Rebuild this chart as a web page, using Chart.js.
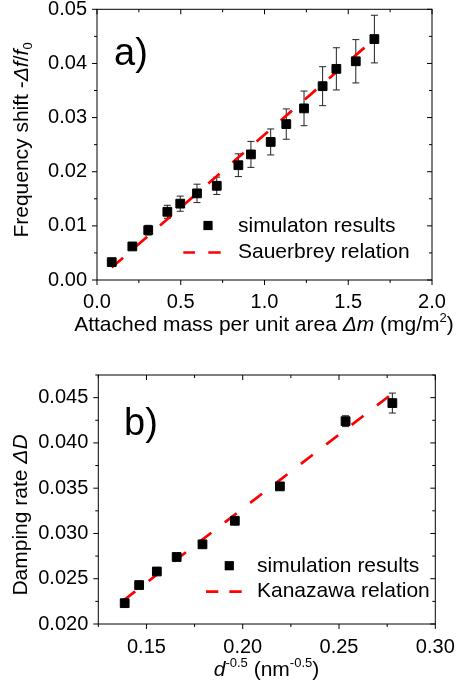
<!DOCTYPE html>
<html><head><meta charset="utf-8">
<script src="https://cdn.jsdelivr.net/npm/chart.js@4.4.1/dist/chart.umd.min.js"></script>
<style>
html,body{margin:0;padding:0;background:#fff;}
#wrap{position:relative;width:457px;height:685px;overflow:hidden;}
.box{position:absolute;left:0;width:457px;}
</style></head><body>
<div id="wrap">
<div class="box" style="top:0;height:345px"><canvas id="c1"></canvas></div>
<div class="box" style="top:345px;height:340px"><canvas id="c2"></canvas></div>
</div>
<script>
// ---------- data (panel a) ----------
const massA  = [0.088,0.211,0.306,0.420,0.497,0.597,0.715,0.844,0.919,1.037,1.130,1.236,1.347,1.429,1.545,1.656];
const shiftA = [0.0033,0.0062,0.0092,0.0126,0.0141,0.0160,0.0174,0.0212,0.0232,0.0255,0.0288,0.0317,0.0358,0.0390,0.0404,0.0445];
const errA   = [0.0003,0.0006,0.0009,0.0012,0.0014,0.0017,0.0016,0.0021,0.0024,0.0024,0.0028,0.0032,0.0036,0.0039,0.0040,0.0044];
const sauerX = [0.088, 1.670];
const sauerY = [0.0023, 0.0449];
const xTicksA = [0, 0.5, 1.0, 1.5, 2.0];
const yTicksA = [0, 0.01, 0.02, 0.03, 0.04, 0.05];
// ---------- data (panel b) ----------
const dB    = [0.1387,0.1462,0.1554,0.1657,0.1791,0.1959,0.2193,0.2534,0.2777];
const dampB = [0.0223,0.0243,0.0258,0.0274,0.0288,0.0314,0.0352,0.0424,0.0444];
const errB  = [0.0002,0.0002,0.0002,0.0002,0.0002,0.0002,0.0002,0.0006,0.0011];
const kanaX = [0.138, 0.278];
const kanaY = [0.0226, 0.0455];
const xTicksB = [0.15, 0.20, 0.25, 0.30];
const yTicksB = [0.020, 0.025, 0.030, 0.035, 0.040, 0.045];

const FAM = '"Liberation Sans", Arial, Helvetica, sans-serif';

function fontFor(s, size){
  const sz = (s.sup||s.sub) ? Math.round(size*0.62) : size;
  return (s.i ? 'italic ' : '') + sz + 'px ' + FAM;
}
function drawRich(ctx, segs, cx, cy, size, rot){
  ctx.save();
  ctx.translate(cx, cy);
  if (rot) ctx.rotate(rot);
  ctx.fillStyle = '#000';
  ctx.textBaseline = 'alphabetic';
  ctx.textAlign = 'left';
  let total = 0;
  const w = segs.map(s => { ctx.font = fontFor(s,size); const m = ctx.measureText(s.t).width; total += m; return m; });
  let x = -total/2;
  const base = size*0.36;
  segs.forEach((s,k) => {
    ctx.font = fontFor(s,size);
    let dy = 0;
    if (s.sup) dy = -size*0.42;
    if (s.sub) dy = size*0.22;
    ctx.fillText(s.t, x, base+dy);
    x += w[k];
  });
  ctx.restore();
}

function frameAndTicks(chart, majorX, majorY, minorXStep, minorYStep){
  const {ctx, chartArea:{left,right,top,bottom}, scales:{x,y}} = chart;
  ctx.save();
  ctx.strokeStyle = '#000';
  ctx.lineWidth = 1;
  ctx.strokeRect(left, top, right-left, bottom-top);
  const MJ = 5, MN = 3;
  ctx.beginPath();
  const xmin = x.min, xmax = x.max, ymin = y.min, ymax = y.max;
  const n = Math.round((xmax - xmin)/minorXStep);
  for (let k=0;k<=n;k++){
    const v = xmin + k*minorXStep;
    const isMajor = majorX.some(m => Math.abs(m-v) < 1e-9);
    const px = x.getPixelForValue(v);
    const L = isMajor ? MJ : MN;
    ctx.moveTo(px, bottom); ctx.lineTo(px, bottom+L);
    ctx.moveTo(px, top); ctx.lineTo(px, top+L);
  }
  const m = Math.round((ymax - ymin)/minorYStep);
  for (let k=0;k<=m;k++){
    const v = ymin + k*minorYStep;
    const isMajor = majorY.some(t => Math.abs(t-v) < 1e-9);
    const py = y.getPixelForValue(v);
    const L = isMajor ? MJ : MN;
    ctx.moveTo(left, py); ctx.lineTo(left-L, py);
    ctx.moveTo(right, py); ctx.lineTo(right-L, py);
  }
  ctx.stroke();
  ctx.restore();
}

function errorBars(chart, xs, ys, es){
  const {ctx, scales:{x,y}} = chart;
  ctx.save();
  ctx.strokeStyle = '#222';
  ctx.lineWidth = 1;
  ctx.beginPath();
  xs.forEach((xv,i) => {
    const px = x.getPixelForValue(xv);
    const p1 = y.getPixelForValue(ys[i]+es[i]);
    const p2 = y.getPixelForValue(ys[i]-es[i]);
    ctx.moveTo(px, p1); ctx.lineTo(px, p2);
    ctx.moveTo(px-3.5, p1); ctx.lineTo(px+3.5, p1);
    ctx.moveTo(px-3.5, p2); ctx.lineTo(px+3.5, p2);
  });
  ctx.stroke();
  ctx.restore();
}

function legendBlock(ctx, sqX, sqY, dashes, dashY, textX, t1, t2, y1, y2){
  ctx.save();
  ctx.fillStyle = '#000';
  ctx.fillRect(sqX-4.6, sqY-4.6, 9.2, 9.2);
  ctx.strokeStyle = '#ff0000';
  ctx.lineWidth = 2.7;
  ctx.beginPath();
  dashes.forEach(d => { ctx.moveTo(d[0], dashY); ctx.lineTo(d[1], dashY); });
  ctx.stroke();
  ctx.font = '21px ' + FAM;
  ctx.textBaseline = 'middle';
  ctx.textAlign = 'left';
  ctx.fillText(t1, textX, y1);
  ctx.fillText(t2, textX, y2);
  ctx.restore();
}

function fixAxis(size, prop){
  return function(s){
    s[prop] = size;
    s.paddingLeft = 0; s.paddingRight = 0; s.paddingTop = 0; s.paddingBottom = 0;
  };
}

function makeChart(id, opt){
  const lineData = opt.lineX.map((v,i) => ({x:v, y:opt.lineY[i]}));
  const ptData = opt.xs.map((v,i) => ({x:v, y:opt.ys[i]}));
  return new Chart(document.getElementById(id), {
    type: 'scatter',
    data: { datasets: [
      { data: ptData, pointStyle: 'rect', pointRadius: 6.2, backgroundColor: '#000', borderColor: '#000', borderWidth: 1, showLine: false, order: 0 },
      { data: lineData, showLine: true, pointRadius: 0, borderColor: '#ff0000', borderWidth: 2.7, borderDash: [15,17], fill: false, order: 1 }
    ]},
    options: {
      responsive: true, maintainAspectRatio: false, animation: false,
      events: [],
      layout: { padding: opt.pad },
      plugins: { legend: {display:false}, tooltip: {enabled:false} },
      scales: {
        x: {
          type: 'linear', min: opt.xmin, max: opt.xmax,
          grid: {display:false, drawTicks:false}, border: {display:false},
          afterBuildTicks: s => { s.ticks = opt.xTicks.map(v => ({value:v})); },
          afterFit: fixAxis(opt.xh, 'height'),
          ticks: { color:'#000', font:{family:FAM, size:20}, padding: opt.xPad, maxRotation:0, autoSkip:false,
                   callback: v => Number(v).toFixed(opt.xDec) }
        },
        y: {
          type: 'linear', min: opt.ymin, max: opt.ymax,
          grid: {display:false, drawTicks:false}, border: {display:false},
          afterBuildTicks: s => { s.ticks = opt.yTicks.map(v => ({value:v})); },
          afterFit: fixAxis(opt.yw, 'width'),
          ticks: { color:'#000', font:{family:FAM, size:20}, padding: opt.yPad, autoSkip:false,
                   callback: v => Number(v).toFixed(opt.yDec) }
        }
      }
    },
    plugins: [{
      id: 'deco',
      beforeDatasetsDraw(chart){ errorBars(chart, opt.xs, opt.ys, opt.es); },
      afterDraw(chart){
        frameAndTicks(chart, opt.xTicks, opt.yTicks, opt.minorX, opt.minorY);
        opt.extra(chart.ctx);
      }
    }]
  });
}

makeChart('c1', {
  xs: massA, ys: shiftA, es: errA, lineX: sauerX, lineY: sauerY,
  xmin: 0, xmax: 2.0, ymin: 0, ymax: 0.05, xTicks: xTicksA, yTicks: yTicksA,
  minorX: 0.25, minorY: 0.005, xDec: 1, yDec: 2,
  pad: {top: 9.3, right: 25, left: 0, bottom: 0}, xh: 65, yw: 97, xPad: 10, yPad: 10,
  extra(ctx){
    ctx.save();
    ctx.fillStyle = '#000';
    ctx.font = '38px ' + FAM;
    ctx.textBaseline = 'middle'; ctx.textAlign = 'left';
    ctx.fillText('a)', 114, 55);
    ctx.restore();
    legendBlock(ctx, 208, 225.5, [[183.3,195],[208.3,220.7]], 252.5, 238, 'simulaton results', 'Sauerbrey relation', 226, 252);
    drawRich(ctx, [{t:'Attached mass per unit area '},{t:'\u0394m', i:true},{t:' (mg/m'},{t:'2', sup:true},{t:')'}], 264, 323, 21, 0);
    drawRich(ctx, [{t:'Frequency shift -'},{t:'\u0394f', i:true},{t:'/'},{t:'f', i:true},{t:'0', sub:true}], 20, 140, 21, -Math.PI/2);
  }
});

makeChart('c2', {
  xs: dB, ys: dampB, es: errB, lineX: kanaX, lineY: kanaY,
  xmin: 0.125, xmax: 0.30, ymin: 0.020, ymax: 0.0475, xTicks: xTicksB, yTicks: yTicksB,
  minorX: 0.025, minorY: 0.0025, xDec: 2, yDec: 3,
  pad: {top: 30, right: 21.7, left: 0, bottom: 0}, xh: 61, yw: 98.3, xPad: 11, yPad: 10,
  extra(ctx){
    ctx.save();
    ctx.fillStyle = '#000';
    ctx.font = '38px ' + FAM;
    ctx.textBaseline = 'middle'; ctx.textAlign = 'left';
    ctx.fillText('b)', 124, 80);
    ctx.restore();
    legendBlock(ctx, 229.3, 220.7, [[206,218.3],[229.3,241.7]], 246.7, 257, 'simulation results', 'Kanazawa relation', 221, 246.5);
    drawRich(ctx, [{t:'d', i:true},{t:'-0.5', sup:true},{t:' (nm'},{t:'-0.5', sup:true},{t:')'}], 266.5, 323, 21, 0);
    drawRich(ctx, [{t:'Damping rate '},{t:'\u0394D', i:true}], 19, 170, 21, -Math.PI/2);
  }
});
</script>
</body></html>
